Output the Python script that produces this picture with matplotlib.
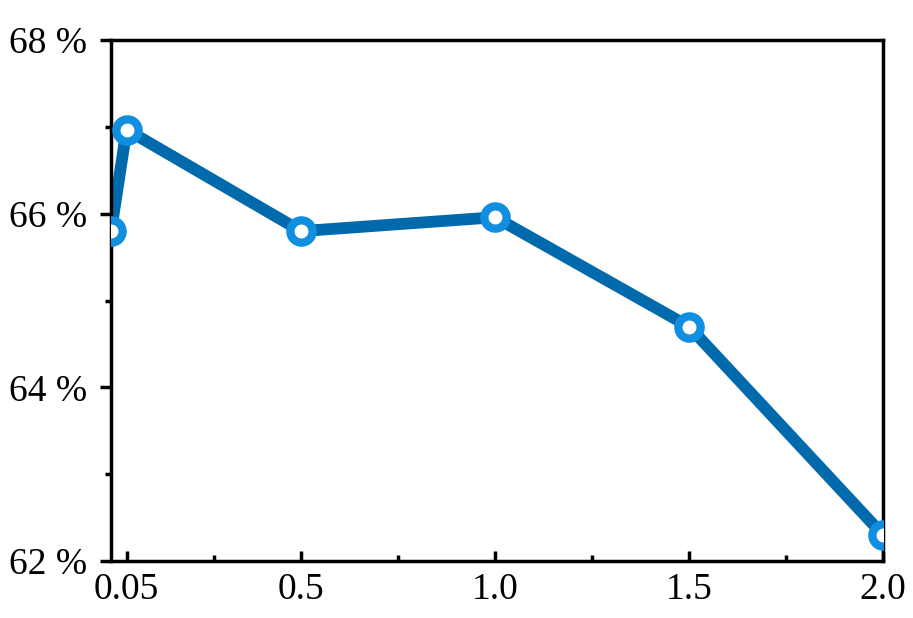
import matplotlib
matplotlib.use("Agg")
import matplotlib.pyplot as plt
from matplotlib.ticker import FixedLocator

plt.rcParams['font.family'] = ['Liberation Serif', 'DejaVu Serif']

# data
x_vals = [0.01, 0.05, 0.5, 1.0, 1.5, 2.0]
acc = [65.8, 66.97, 65.8, 65.96, 64.7, 62.3]
x_ticks = [0.05, 0.5, 1.0, 1.5, 2.0]
x_ticklabels = ['0.05', '0.5', '1.0', '1.5', '2.0']
x_minor = [0.275, 0.75, 1.25, 1.75]
y_ticks = [62, 64, 66, 68]
y_minor = [63, 65, 67]

fig = plt.figure(figsize=(9.13, 6.18), dpi=100)
ax = fig.add_axes([0.1216, 0.0922, 0.9672 - 0.1216, 0.935 - 0.0922])

ax.plot(x_vals, acc, color='#006aad', linewidth=8.5, zorder=2)
ax.plot(x_vals, acc, linestyle='none', marker='o', markersize=16,
        markerfacecolor='white', markeredgecolor='#108ee0',
        markeredgewidth=6, zorder=3)

ax.set_xlim(0.01, 2.0)
ax.set_ylim(62, 68)
ax.set_xticks(x_ticks)
ax.set_xticklabels(x_ticklabels)
ax.xaxis.set_minor_locator(FixedLocator(x_minor))
ax.set_yticks(y_ticks)
ax.set_yticklabels([f'{v} %' for v in y_ticks])
ax.yaxis.set_minor_locator(FixedLocator(y_minor))

ax.tick_params(axis='x', which='major', direction='in', length=7, width=2.5,
               labelsize=27, pad=8)
ax.tick_params(axis='x', which='minor', direction='in', length=4, width=2.5)
ax.tick_params(axis='y', which='major', direction='out', length=8, width=2.5,
               labelsize=27, pad=9)
ax.tick_params(axis='y', which='minor', direction='out', length=4, width=2.5)
for sp in ax.spines.values():
    sp.set_linewidth(2.5)

fig.savefig('out.png', dpi=100)
